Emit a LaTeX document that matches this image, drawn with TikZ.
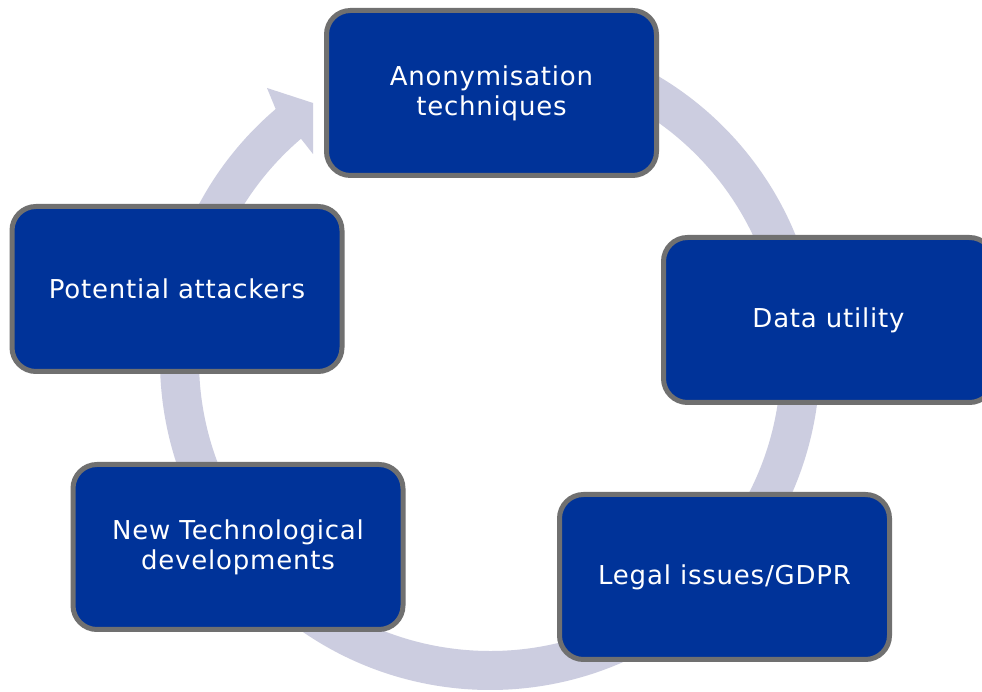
\documentclass[tikz,border=0pt]{standalone}
\usepackage{fontspec}
\setmainfont{DejaVu Sans}[LetterSpace=3]
\usetikzlibrary{calc}
\definecolor{ringc}{RGB}{204,205,224}
\definecolor{boxfill}{RGB}{0,51,153}
\definecolor{boxline}{RGB}{112,112,112}
\tikzset{
  stagebox/.style={draw=boxline, line width=5pt, fill=boxfill, rounded corners=24pt,
    minimum width=330pt, minimum height=165pt, text=white, align=center,
    font=\fontsize{26}{30}\selectfont, inner sep=0pt}
}
\begin{document}
\begin{tikzpicture}[x=1pt,y=1pt]
\useasboundingbox (0,0) rectangle (982,692);
\fill[white] (0,0) rectangle (982,692);
\coordinate (C) at (490,332);
% ring
\fill[ringc] ($(C)+(-230:330)$) arc[start angle=-230, end angle=85, radius=330]
  -- ($(C)+(85:291)$) arc[start angle=85, end angle=-230, radius=291] -- cycle;
% arrowhead (clipped tip)
\fill[ringc] ($(C)+(130.5:330)$) -- (267,604) -- (313,589) -- (313,538) -- ($(C)+(130.5:291)$) -- cycle;
% boxes
\node[stagebox] (anon) at (491.5,599) {Anonymisation\\techniques};
\node[stagebox] (data) at (828.5,372) {Data utility};
\node[stagebox] (legal) at (724.5,115) {Legal issues/GDPR};
\node[stagebox] (newtech) at (238,145) {New Technological\\developments};
\node[stagebox] (attack) at (177,403) {Potential attackers};
\end{tikzpicture}
\end{document}
